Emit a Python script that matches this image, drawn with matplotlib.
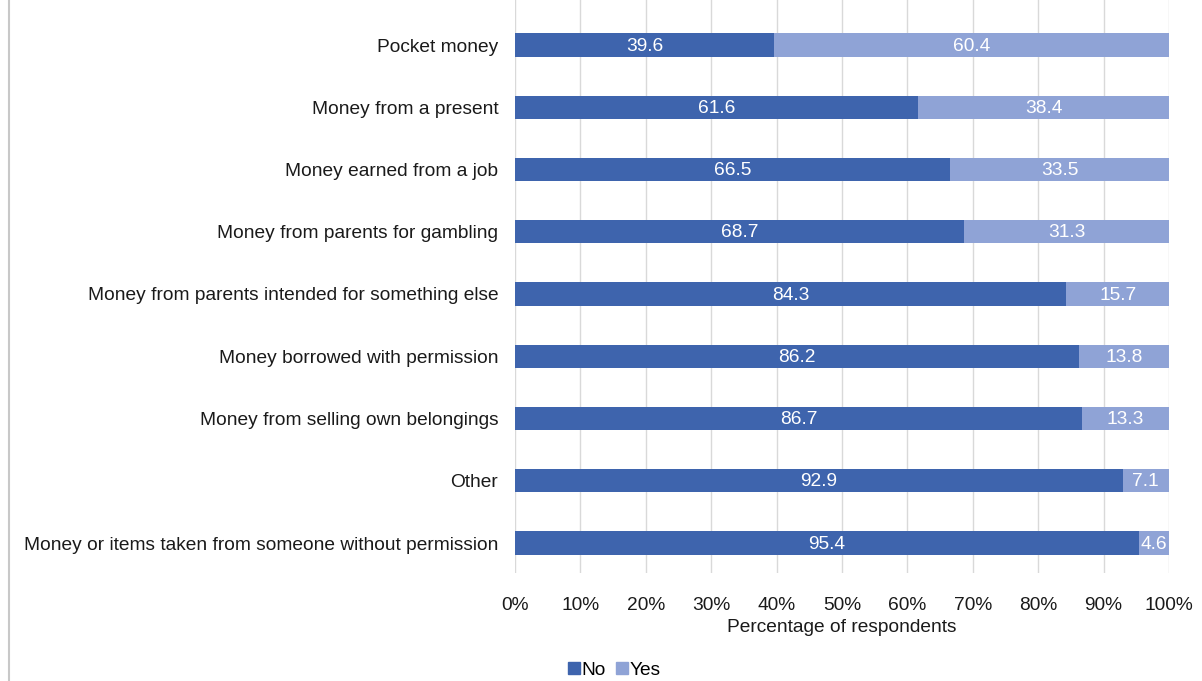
import matplotlib
matplotlib.use("Agg")
import matplotlib.pyplot as plt
from matplotlib.lines import Line2D

categories = [
    "Pocket money",
    "Money from a present",
    "Money earned from a job",
    "Money from parents for gambling",
    "Money from parents intended for something else",
    "Money borrowed with permission",
    "Money from selling own belongings",
    "Other",
    "Money or items taken from someone without permission",
]
no_vals = [39.6, 61.6, 66.5, 68.7, 84.3, 86.2, 86.7, 92.9, 95.4]
yes_vals = [60.4, 38.4, 33.5, 31.3, 15.7, 13.8, 13.3, 7.1, 4.6]
xticks = [0, 10, 20, 30, 40, 50, 60, 70, 80, 90, 100]

plt.rcParams["font.family"] = ["Liberation Sans", "DejaVu Sans"]

dark = "#3e64ad"
light = "#8fa3d6"
txt = "#1a1a1a"
fs = 13.8

fig = plt.figure(figsize=(12.02, 6.81), dpi=100)
ax = fig.add_axes([515 / 1202, 1 - 573 / 681, 654 / 1202, 573 / 681])

y = list(range(len(categories)))
ax.barh(y, no_vals, height=0.37, color=dark, label="No", zorder=3)
ax.barh(y, yes_vals, left=no_vals, height=0.37, color=light, label="Yes", zorder=3)

for i in y:
    ax.text(no_vals[i] / 2, i + 0.02, f"{no_vals[i]:.1f}", color="white",
            ha="center", va="center", fontsize=fs, zorder=4)
    ax.text(no_vals[i] + yes_vals[i] / 2, i + 0.02, f"{yes_vals[i]:.1f}", color="white",
            ha="center", va="center", fontsize=fs, zorder=4)

ax.set_xlim(0, 100)
ax.set_ylim(8 + 30 / 62.25, -45 / 62.25)
ax.set_xticks(xticks)
ax.set_xticklabels([f"{t}%" for t in xticks], fontsize=fs, color=txt)
ax.set_yticks(y)
ax.set_yticklabels(categories, fontsize=fs, color=txt)
ax.tick_params(axis="both", length=0)
ax.tick_params(axis="y", pad=12)
ax.tick_params(axis="x", pad=17)
ax.grid(axis="x", color="#d9d9d9", linewidth=1, zorder=0)
for s in ax.spines.values():
    s.set_visible(False)
ax.set_xlabel("Percentage of respondents", fontsize=fs, color=txt, labelpad=4)

handles = [
    Line2D([], [], marker="s", linestyle="none", color=dark, markersize=9),
    Line2D([], [], marker="s", linestyle="none", color=light, markersize=9),
]
fig.legend(handles, ["No", "Yes"], loc="center", bbox_to_anchor=(614 / 1202, 1 - 670 / 681),
           ncol=2, frameon=False, fontsize=fs, handletextpad=0.05, columnspacing=0.5,
           handlelength=0.7)

fig.add_artist(Line2D([9 / 1202, 9 / 1202], [0, 1], color="#c8c8c8", linewidth=1.5))

fig.savefig("out.png", dpi=100)
